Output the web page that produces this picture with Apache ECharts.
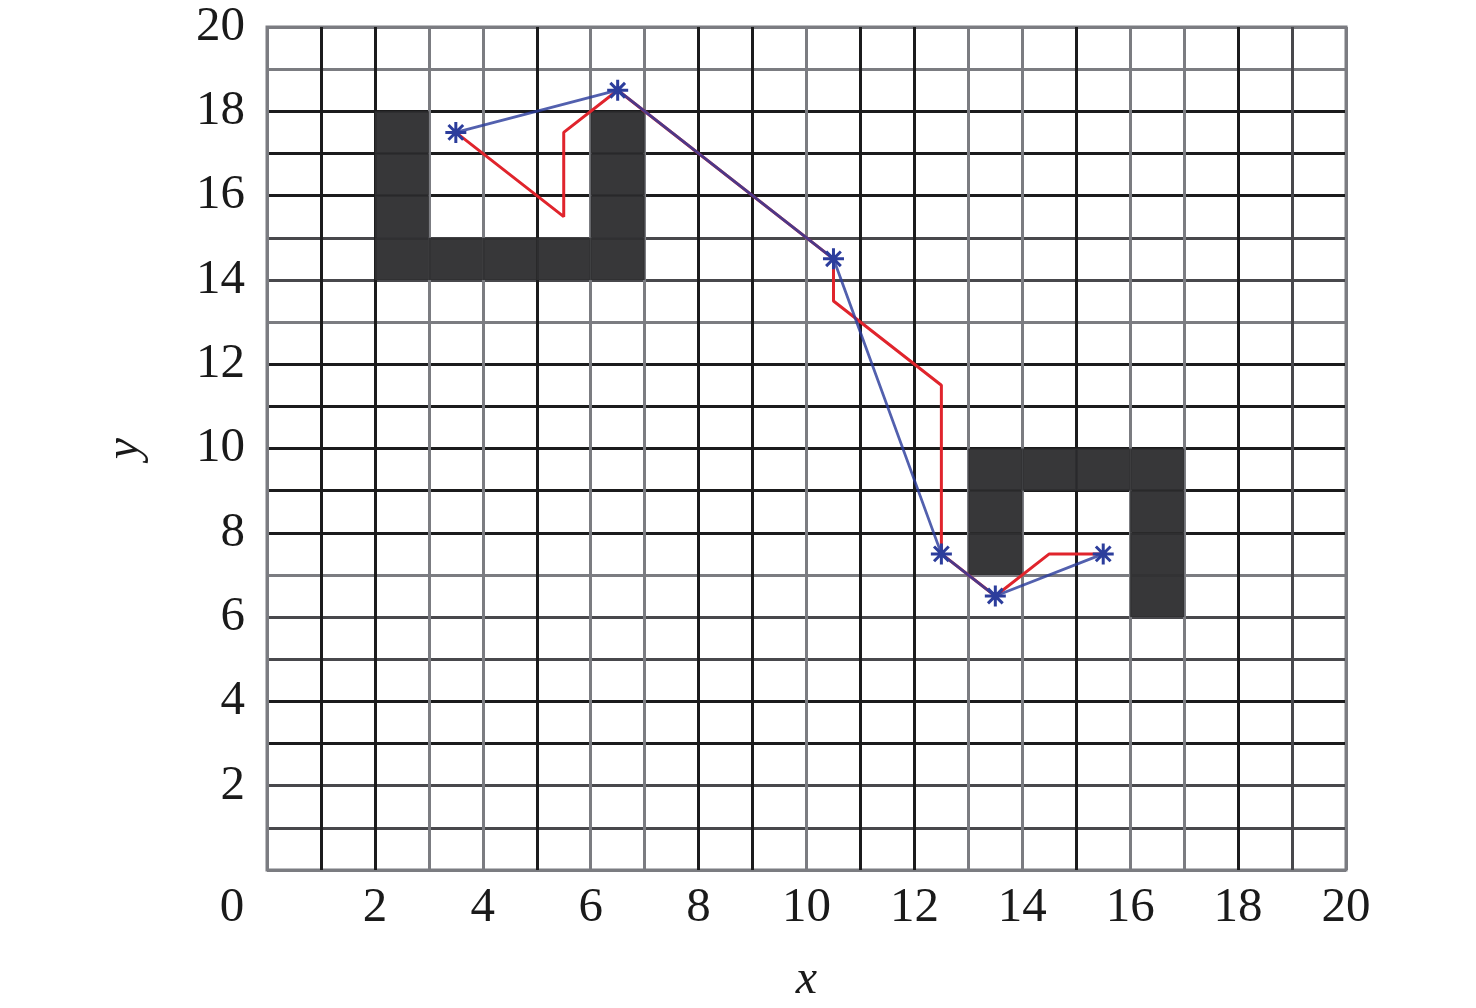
<!DOCTYPE html>
<html>
<head>
<meta charset="utf-8">
<script src="https://cdn.jsdelivr.net/npm/echarts@6/dist/echarts.min.js"></script>
<style>
html,body{margin:0;padding:0;background:#fff;}
#chart{width:1476px;height:1008px;}
</style>
</head>
<body>
<div id="chart"></div>
<script>
// ---- data ----
var xTicks = [0,2,4,6,8,10,12,14,16,18,20];
var yTicks = [2,4,6,8,10,12,14,16,18,20];

// occupied grid cells (lower-left corners)
var obstacleX = [2,2,2,2,3,4,5,6,6,6,6, 13,14,15,16,13,13,16,16,16];
var obstacleY = [14,15,16,17,14,14,14,14,15,16,17, 9,9,9,9,8,7,8,7,6];

// blue path (with * markers)
var blueX = [3.5,6.5,10.5,12.5,13.5,15.5];
var blueY = [17.5,18.5,14.5,7.5,6.5,7.5];

// red path
var redX = [3.5,5.5,5.5,6.5,10.5,10.5,12.5,12.5,13.5,14.5,15.5];
var redY = [17.5,15.5,17.5,18.5,14.5,13.5,11.5,7.5,6.5,7.5,7.5];

// grid line shades (index = value 0..20)
var G = '#7b7c81', K = '#1b1b1c', D = '#48484c';
var vLineColors = [G,K,K,G,G,K,G,G,K,K,G,K,K,G,G,K,G,G,K,D,G];
var hLineColors = [G,D,D,K,K,D,D,G,K,K,K,K,K,G,D,D,K,K,K,G,G];

function zip(a,b){ return a.map(function(v,i){ return [v,b[i]]; }); }

var FONT = "Liberation Serif";
var chart = echarts.init(document.getElementById('chart'), null, {renderer:'canvas'});

var asterisk = 'path://M0,10L20,10M10,0L10,20M3,3L17,17M17,3L3,17';

chart.setOption({
  animation:false,
  backgroundColor:'#fff',
  grid:{left:267,right:130,top:27,bottom:138,show:true,borderColor:G,borderWidth:3,
        backgroundColor:'transparent',containLabel:false,outerBoundsMode:'none'},
  xAxis:{
    type:'value',min:0,max:20,interval:1,
    name:'x',nameLocation:'middle',nameGap:86,
    nameTextStyle:{fontFamily:FONT,fontStyle:'italic',fontSize:48,color:'#1a1a1a'},
    axisLine:{show:false},axisTick:{show:false},
    axisLabel:{
      margin:14,fontFamily:FONT,fontSize:49,color:'#1a1a1a',
      formatter:function(v){
        if (xTicks.indexOf(v) < 0) return '';
        if (v === 0) return '{o|0}';
        return String(v);
      },
      rich:{o:{fontFamily:FONT,fontSize:49,color:'#1a1a1a',padding:[0,70,0,0]}}
    },
    splitLine:{show:true,lineStyle:{color:vLineColors,width:3}}
  },
  yAxis:{
    type:'value',min:0,max:20,interval:1,
    name:'y',nameLocation:'middle',nameGap:118,
    nameTextStyle:{fontFamily:FONT,fontStyle:'italic',fontSize:48,color:'#1a1a1a'},
    axisLine:{show:false},axisTick:{show:false},
    axisLabel:{
      margin:22,fontFamily:FONT,fontSize:49,color:'#1a1a1a',
      formatter:function(v){ return yTicks.indexOf(v) < 0 ? '' : String(v); }
    },
    splitLine:{show:true,lineStyle:{color:hLineColors,width:3}}
  },
  series:[
    {
      type:'custom',
      data:zip(obstacleX,obstacleY),
      z:1,
      renderItem:function(params,api){
        var x = api.value(0), y = api.value(1);
        var p1 = api.coord([x, y+1]);
        var p2 = api.coord([x+1, y]);
        return {type:'rect',shape:{x:p1[0],y:p1[1],width:p2[0]-p1[0],height:p2[1]-p1[1]},
                style:{fill:'#2f2f31',opacity:0.96}};
      },
      silent:true
    },
    {
      type:'line',
      data:zip(redX,redY),
      symbol:'none',
      z:3,
      lineStyle:{color:'#e0242c',width:3}
    },
    {
      type:'line',
      data:zip(blueX,blueY),
      symbol:asterisk,symbolSize:21,
      z:4,
      lineStyle:{color:'#2c3d9c',width:2.8,opacity:0.82},
      itemStyle:{color:'#2c3d9c',borderColor:'#2c3d9c',borderWidth:3}
    }
  ]
});
</script>
</body>
</html>
